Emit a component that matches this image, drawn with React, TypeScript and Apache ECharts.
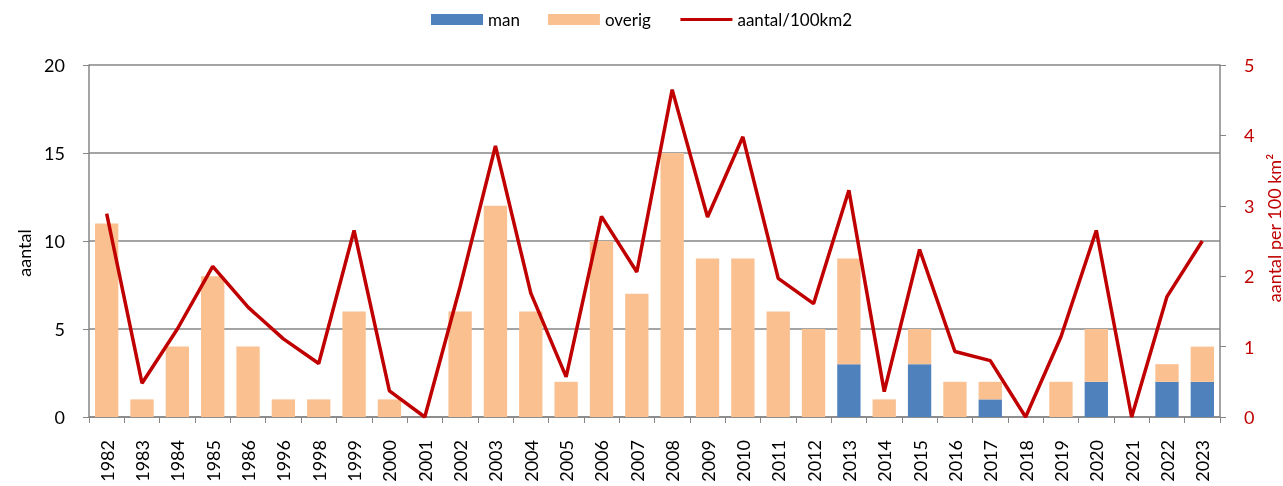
import React, { useEffect, useRef } from "react";
import * as echarts from "echarts";

const years = ["1982","1983","1984","1985","1986","1996","1998","1999","2000","2001","2002","2003","2004","2005","2006","2007","2008","2009","2010","2011","2012","2013","2014","2015","2016","2017","2018","2019","2020","2021","2022","2023"];
const man = [0,0,0,0,0,0,0,0,0,0,0,0,0,0,0,0,0,0,0,0,0,3,0,3,0,1,0,0,2,0,2,2];
const overig = [11,1,4,8,4,1,1,6,1,0,6,12,6,2,10,7,15,9,9,6,5,6,1,2,2,1,0,2,3,0,1,2];
const density = [2.89,0.48,1.25,2.14,1.56,1.11,0.76,2.65,0.37,0,1.85,3.85,1.76,0.57,2.85,2.06,4.65,2.84,3.98,1.97,1.61,3.22,0.36,2.38,0.93,0.80,0,1.14,2.65,0,1.71,2.50];

const FONT = "Lato, 'Open Sans', sans-serif";

export default function App() {
  const ref = useRef<HTMLDivElement>(null);
  useEffect(() => {
    const chart = echarts.init(ref.current!, null, { renderer: "svg" });
    chart.setOption({
      animation: false,
      textStyle: { fontFamily: FONT },
      legend: {
        top: 6,
        left: "center",
        itemWidth: 52,
        itemHeight: 11,
        itemGap: 28,
        textStyle: { fontSize: 17, color: "#000", fontFamily: FONT },
        data: [
          { name: "man", icon: "rect" },
          { name: "overig", icon: "rect" },
          { name: "aantal/100km2", itemStyle: { opacity: 0 }, lineStyle: { width: 3, color: "#C00000" } },
        ],
      },
      grid: { left: 89, right: 63, top: 65, bottom: 69, containLabel: false, outerBoundsMode: "none" },
      xAxis: {
        type: "category",
        data: years,
        axisLine: { lineStyle: { color: "#868686", width: 1.5 } },
        axisTick: { show: true, length: 6, lineStyle: { color: "#868686" } },
        axisLabel: { rotate: 90, fontSize: 18, color: "#000", margin: 23, fontFamily: FONT },
      },
      yAxis: [
        {
          type: "value",
          min: 0,
          max: 20,
          interval: 5,
          name: "aantal",
          nameLocation: "middle",
          nameGap: 55,
          nameTextStyle: { fontSize: 18, color: "#000", fontFamily: FONT, padding: [0, 24, 0, 0] },
          axisLine: { show: true, lineStyle: { color: "#868686", width: 1.5 } },
          axisTick: { show: true, length: 6, lineStyle: { color: "#868686" } },
          axisLabel: { fontSize: 18, color: "#000", margin: 24, fontFamily: FONT },
          splitLine: { lineStyle: { color: "#868686", width: 1.5 } },
        },
        {
          type: "value",
          min: 0,
          max: 5,
          interval: 1,
          name: "aantal per 100 km²",
          nameLocation: "middle",
          nameGap: 40,
          nameRotate: 90,
          nameTextStyle: { fontSize: 18, color: "#C00000", fontFamily: FONT, padding: [0, 0, 0, 26] },
          axisLine: { show: true, lineStyle: { color: "#868686", width: 1.5 } },
          axisTick: { show: true, length: 6, lineStyle: { color: "#868686" } },
          axisLabel: { fontSize: 18, color: "#C00000", margin: 24, fontFamily: FONT },
          splitLine: { show: false },
        },
      ],
      series: [
        {
          name: "man",
          type: "bar",
          stack: "total",
          data: man,
          barCategoryGap: "34%",
          itemStyle: { color: "#4F81BD" },
        },
        {
          name: "overig",
          type: "bar",
          stack: "total",
          data: overig,
          barCategoryGap: "34%",
          itemStyle: { color: "#FAC090" },
        },
        {
          name: "aantal/100km2",
          type: "line",
          yAxisIndex: 1,
          data: density,
          symbol: "none",
          lineStyle: { color: "#C00000", width: 3.5 },
          itemStyle: { color: "#C00000" },
        },
      ],
    });
    return () => chart.dispose();
  }, []);
  return (
    <div
      ref={ref}
      style={{ position: "fixed", left: 0, top: 0, width: 1283, height: 486 }}
    />
  );
}
